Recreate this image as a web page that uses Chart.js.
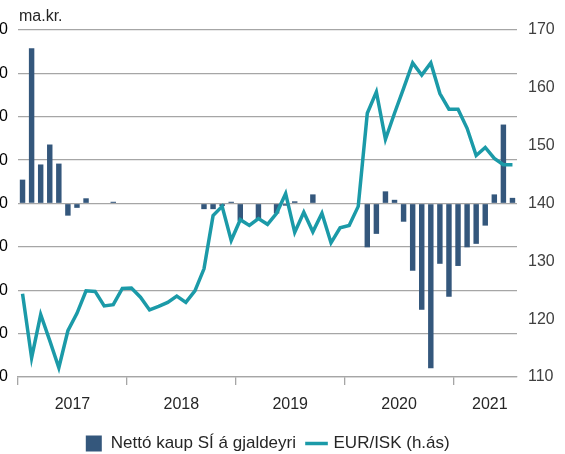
<!DOCTYPE html>
<html lang="is">
<head>
  <meta charset="UTF-8">
  <title>Nettó kaup SÍ á gjaldeyri og EUR/ISK</title>
  <script src="https://cdn.jsdelivr.net/npm/chart.js"></script>
  <style>
    html, body {
      margin: 0;
      padding: 0;
      background: #fff;
      overflow: hidden;
    }
    body {
      width: 565px;
      height: 454px;
      position: relative;
      font-family: "Liberation Sans", Arial, sans-serif;
    }
    .unit {
      position: absolute;
      left: 19px;
      top: 7px;
      font-size: 16px;
      color: #262626;
    }
    /* canvas is a bit bigger than the page and shifted left,
       so the left tick labels get cut like in the original */
    .chart-box {
      position: absolute;
      left: -30px;
      top: 0;
      width: 595px;
      height: 462px;
    }
  </style>
</head>
<body>
<div class="chart-box"><canvas id="fxChart" width="595" height="462"></canvas></div>
<div class="unit">ma.kr.</div>

<script>
  const years = ['2017', '2018', '2019', '2020', '2021'];
  const yearLabelAt = [6, 18, 30, 42, 52];   // month index where each year label sits

  // jan 2017 - jul 2021
  const months = [];
  years.forEach(y => {
    for (let m = 1; m <= 12; m++) {
      if (months.length < 55) months.push(y + '-' + String(m).padStart(2, '0'));
    }
  });

  // ma.kr., vinstri ás
  const netPurchases = [
    5.5, 35.8, 9.0, 13.6, 9.2, -2.8, -1.0, 1.2, 0, 0, 0.4, 0,
    0, 0, 0, 0, 0, 0, 0, 0, -1.3, -1.3, -0.6, 0.4,
    -4.0, 0, -3.6, 0, -2.3, -0.5, 0.5, 0, 2.1, 0, 0, 0,
    0, 0, -10.1, -7.0, 2.8, 0.85, -4.2, -15.5, -24.5, -38.0, -13.9, -21.5,
    -14.4, -10.1, -9.3, -5.1, 2.1, 18.2, 1.3
  ];

  // EUR/ISK, hægri ás
  const eurIsk = [
    124.4, 113.3, 120.8, 116.3, 111.6, 118.0, 121.0, 124.9, 124.8, 122.3, 122.5, 125.3,
    125.4, 123.8, 121.6, 122.2, 122.9, 124.0, 122.9, 124.9, 128.7, 137.9, 139.5, 133.6,
    137.2, 136.2, 137.4, 136.4, 138.3, 141.7, 135.0, 138.5, 135.1, 138.3, 133.2, 135.8,
    136.2, 139.5, 155.6, 159.3, 151.1, 155.6, 159.9, 164.3, 162.2, 164.3, 159.0, 156.3,
    156.3, 153.0, 148.3, 149.7, 147.8, 146.7, 146.7
  ];

  const gridGray = '#a6a6a6';

  Chart.defaults.font.family = '"Liberation Sans", Arial, sans-serif';
  Chart.defaults.font.size = 16;
  Chart.defaults.color = '#262626';

  new Chart(document.getElementById('fxChart'), {
    type: 'bar',
    data: {
      labels: months,
      datasets: [
        {
          type: 'bar',
          label: 'Nettó kaup SÍ á gjaldeyri',
          data: netPurchases,
          backgroundColor: '#34577c',
          barPercentage: 0.6,
          categoryPercentage: 1,
          pointStyle: 'rect',
          yAxisID: 'y',
          order: 1
        },
        {
          type: 'line',
          label: 'EUR/ISK (h.ás)',
          data: eurIsk,
          borderColor: '#1b9aa8',
          backgroundColor: '#1b9aa8',
          borderWidth: 3.5,
          pointRadius: 0,
          pointBorderWidth: 3.5,
          pointStyle: 'line',
          tension: 0,
          yAxisID: 'y1',
          order: 0
        }
      ]
    },
    options: {
      responsive: false,
      animation: false,
      layout: { padding: { top: 30, bottom: 0 } },
      plugins: {
        legend: {
          position: 'bottom',
          labels: {
            usePointStyle: true,
            boxHeight: 16,
            padding: 12,
            font: { size: 17 },
            sort: (a, b) => a.datasetIndex - b.datasetIndex
          }
        },
        tooltip: { enabled: false }
      },
      scales: {
        x: {
          grid: {
            drawOnChartArea: false,
            tickLength: 8,
            lineWidth: 1.3,
            color: ctx => (ctx.index !== undefined && ctx.index % 12 === 0) ? gridGray : 'rgba(0,0,0,0)'
          },
          border: { color: gridGray, width: 1.3 },
          ticks: {
            autoSkip: false,
            maxRotation: 0,
            padding: 10,
            labelOffset: -4.5,
            callback: (v, i) => {
              const k = yearLabelAt.indexOf(i);
              return k >= 0 ? years[k] : '';
            }
          },
          afterFit: s => { s.height = 46; }
        },
        y: {
          position: 'left',
          min: -40,
          max: 40,
          ticks: { stepSize: 10, padding: 10, color: '#000' },
          grid: { color: gridGray, lineWidth: 1.3, drawTicks: false },
          border: { display: false },
          afterFit: s => { s.width = 48; }
        },
        y1: {
          position: 'right',
          min: 110,
          max: 170,
          ticks: { stepSize: 10, padding: 11, color: '#404040' },
          grid: { display: false, drawTicks: false },
          border: { display: false },
          afterFit: s => { s.width = 48; }
        }
      }
    }
  });
</script>
</body>
</html>
